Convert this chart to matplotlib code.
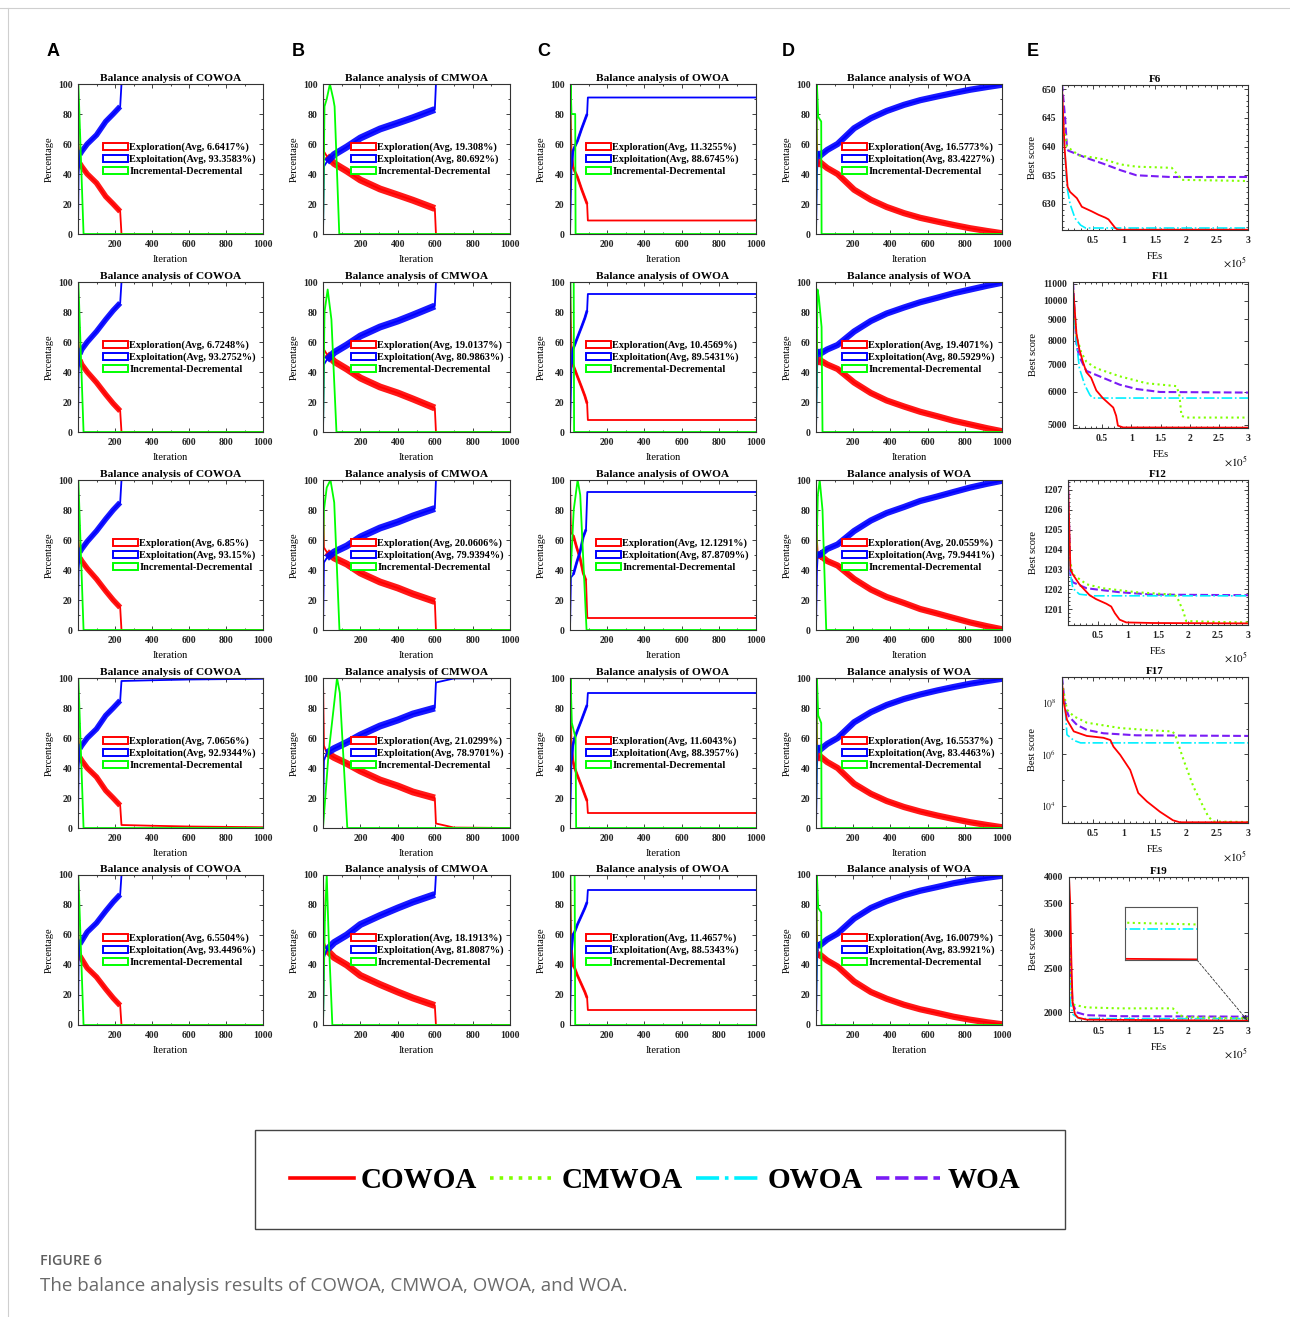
import numpy as np
import matplotlib
matplotlib.use('Agg')
import matplotlib.pyplot as plt
from matplotlib.patches import Patch, Rectangle
from matplotlib.lines import Line2D
from matplotlib.ticker import MultipleLocator, FixedLocator, NullLocator, NullFormatter

plt.rcParams['font.family'] = ['Liberation Serif', 'DejaVu Serif']
plt.rcParams['mathtext.fontset'] = 'stix'

W, H = 1290, 1317

# ------------------------------------------------------------------ data
ALGOS = ['COWOA', 'CMWOA', 'OWOA', 'WOA']
PANEL_LETTERS = ['A', 'B', 'C', 'D', 'E']
FUNCS = ['F6', 'F11', 'F12', 'F17', 'F19']

# average exploration / exploitation shown in legends (rows = F6, F11, F12, F17, F19)
AVG_XPL_COWOA = ['6.6417', '6.7248', '6.85', '7.0656', '6.5504']
AVG_XPT_COWOA = ['93.3583', '93.2752', '93.15', '92.9344', '93.4496']
AVG_XPL_CMWOA = ['19.308', '19.0137', '20.0606', '21.0299', '18.1913']
AVG_XPT_CMWOA = ['80.692', '80.9863', '79.9394', '78.9701', '81.8087']
AVG_XPL_OWOA = ['11.3255', '10.4569', '12.1291', '11.6043', '11.4657']
AVG_XPT_OWOA = ['88.6745', '89.5431', '87.8709', '88.3957', '88.5343']
AVG_XPL_WOA = ['16.5773', '19.4071', '20.0559', '16.5537', '16.0079']
AVG_XPT_WOA = ['83.4227', '80.5929', '79.9441', '83.4463', '83.9921']

# iteration where the noisy phase ends
CONV_COWOA = [228, 228, 228, 228, 228]
CONV_CMWOA = [598, 598, 598, 598, 598]
CONV_OWOA = [92, 92, 86, 92, 92]
CONV_WOA = [1000, 1000, 1000, 1000, 1000]

# ---- COWOA
COWOA_IT = [0, 3, 10, 20, 50, 100, 150, 190, 228, 235, 400, 600, 1000]
COWOA1_XPL = [100, 60, 47, 45, 40, 34, 25, 20, 15, 0, 0, 0, 0]
COWOA1_XPT = [0, 40, 53, 55, 60, 66, 75, 80, 85, 100, 100, 100, 100]
COWOA2_XPL = [100, 60, 48, 45, 40, 33, 25, 19, 14, 0, 0, 0, 0]
COWOA2_XPT = [0, 40, 52, 55, 60, 67, 75, 81, 86, 100, 100, 100, 100]
COWOA3_XPL = [100, 60, 48, 46, 41, 34, 26, 20, 15, 0, 0, 0, 0]
COWOA3_XPT = [0, 40, 52, 54, 59, 66, 74, 80, 85, 100, 100, 100, 100]
COWOA4_XPL = [100, 60, 47, 45, 40, 34, 25, 20, 15, 2, 1.5, 1, 0.5]
COWOA4_XPT = [0, 40, 53, 55, 60, 66, 75, 80, 85, 98, 98.5, 99, 99.5]
COWOA5_XPL = [100, 58, 46, 44, 38, 32, 24, 18, 13, 0, 0, 0, 0]
COWOA5_XPT = [0, 42, 54, 56, 62, 68, 76, 82, 87, 100, 100, 100, 100]
COWOA_GIT = [0, 2, 30, 1000]
COWOA_INC = [0, 100, 0, 0]

# ---- CMWOA
CMWOA_IT = [0, 5, 20, 60, 127, 200, 305, 400, 481, 598, 604, 640, 700, 1000]
CMWOA1_XPL = [100, 55, 52, 47, 42, 36, 30, 26, 22.5, 17, 0, 0, 0, 0]
CMWOA1_XPT = [0, 45, 48, 53, 58, 64, 70, 74, 77.5, 83, 100, 100, 100, 100]
CMWOA2_XPL = [100, 55, 52, 47, 42, 36, 30, 26, 22, 16, 0, 0, 0, 0]
CMWOA2_XPT = [0, 45, 48, 53, 58, 64, 70, 74, 78, 84, 100, 100, 100, 100]
CMWOA3_XPL = [100, 55, 52, 48, 44, 38, 32, 28, 24, 19, 0, 0, 0, 0]
CMWOA3_XPT = [0, 45, 48, 52, 56, 62, 68, 72, 76, 81, 100, 100, 100, 100]
CMWOA4_XPL = [100, 55, 50, 47, 43, 38, 32, 28, 24, 20, 3, 2, 0.3, 0]
CMWOA4_XPT = [0, 45, 50, 53, 57, 62, 68, 72, 76, 80, 97, 98, 99.7, 100]
CMWOA5_XPL = [100, 55, 50, 45, 40, 33, 27, 22, 18, 13, 0, 0, 0, 0]
CMWOA5_XPT = [0, 45, 50, 55, 60, 67, 73, 78, 82, 87, 100, 100, 100, 100]
CMWOA1_GIT = [0, 8, 20, 37, 55, 62, 87, 1000]
CMWOA1_INC = [0, 85, 90, 100, 90, 85, 0, 0]
CMWOA2_GIT = [0, 8, 25, 45, 72, 1000]
CMWOA2_INC = [0, 80, 95, 75, 0, 0]
CMWOA3_GIT = [0, 5, 20, 40, 60, 88, 1000]
CMWOA3_INC = [50, 80, 95, 100, 85, 0, 0]
CMWOA4_GIT = [0, 30, 75, 90, 130, 1000]
CMWOA4_INC = [0, 50, 100, 90, 0, 0]
CMWOA5_GIT = [0, 10, 20, 30, 50, 1000]
CMWOA5_INC = [0, 70, 100, 60, 0, 0]

# ---- OWOA
OWOA_IT = [0, 8, 15, 25, 40, 62, 80, 92, 96, 1000]
OWOA3_IT = [0, 5, 18, 36, 54, 71, 86, 93, 1000]
OWOA1_XPL = [100, 55, 45, 42, 38, 30, 24, 20, 9, 9]
OWOA1_XPT = [0, 45, 55, 58, 62, 70, 76, 80, 91, 91]
OWOA2_XPL = [100, 55, 45, 42, 37, 30, 24, 19, 8, 8]
OWOA2_XPT = [0, 45, 55, 58, 63, 70, 76, 81, 92, 92]
OWOA3_XPL = [100, 65, 63, 55, 48, 38, 33, 8, 8]
OWOA3_XPT = [0, 35, 37, 45, 52, 62, 67, 92, 92]
OWOA4_XPL = [100, 55, 45, 40, 35, 28, 22, 18, 10, 10]
OWOA4_XPT = [0, 45, 55, 60, 65, 72, 78, 82, 90, 90]
OWOA5_XPL = [100, 50, 40, 38, 33, 27, 22, 18, 10, 10]
OWOA5_XPT = [0, 50, 60, 62, 67, 73, 78, 82, 90, 90]
OWOA1_GIT = [0, 3, 8, 28, 30, 1000]
OWOA1_INC = [0, 100, 80, 80, 0, 0]
OWOA2_GIT = [0, 3, 20, 22, 1000]
OWOA2_INC = [0, 100, 100, 0, 0]
OWOA3_GIT = [0, 20, 41, 55, 89, 1000]
OWOA3_INC = [30, 80, 100, 90, 0, 0]
OWOA4_GIT = [0, 3, 10, 30, 33, 1000]
OWOA4_INC = [0, 100, 70, 60, 0, 0]
OWOA5_GIT = [0, 3, 25, 28, 1000]
OWOA5_INC = [0, 100, 100, 0, 0]

# ---- WOA
WOA_IT = [0, 5, 10, 20, 60, 116, 205, 295, 380, 473, 560, 652, 740, 830, 920, 1000]
WOA1_XPL = [100, 60, 45, 48, 44, 40, 29.5, 22.8, 18, 13.9, 10.8, 8.3, 6, 3.8, 2, 0.5]
WOA1_XPT = [0, 40, 55, 52, 56, 60, 70.5, 77.2, 82, 86.1, 89.2, 91.7, 94, 96.2, 98, 99.5]
WOA2_XPL = [100, 60, 45, 48, 45, 42, 33, 26, 21, 17, 13.5, 10.5, 7.5, 5, 2.5, 0.5]
WOA2_XPT = [0, 40, 55, 52, 55, 58, 67, 74, 79, 83, 86.5, 89.5, 92.5, 95, 97.5, 99.5]
WOA3_XPL = [100, 60, 48, 50, 46, 43, 34, 27, 22, 18, 14, 11, 8, 5, 2.5, 0.5]
WOA3_XPT = [0, 40, 52, 50, 54, 57, 66, 73, 78, 82, 86, 89, 92, 95, 97.5, 99.5]
WOA4_XPL = [100, 60, 45, 48, 44, 40, 29.5, 22.8, 18, 14, 11, 8.3, 6, 3.8, 2, 0.5]
WOA4_XPT = [0, 40, 55, 52, 56, 60, 70.5, 77.2, 82, 86, 89, 91.7, 94, 96.2, 98, 99.5]
WOA5_XPL = [100, 60, 45, 47, 43, 39, 29, 22, 17.5, 13.5, 10.5, 8, 5.5, 3.5, 1.8, 0.5]
WOA5_XPT = [0, 40, 55, 53, 57, 61, 71, 78, 82.5, 86.5, 89.5, 92, 94.5, 96.5, 98.2, 99.5]
WOA1_GIT = [0, 5, 12, 28, 30, 1000]
WOA1_INC = [0, 100, 78, 75, 0, 0]
WOA2_GIT = [0, 8, 15, 30, 35, 1000]
WOA2_INC = [0, 95, 90, 70, 0, 0]
WOA3_GIT = [0, 10, 20, 35, 55, 1000]
WOA3_INC = [40, 90, 100, 80, 0, 0]
WOA4_GIT = [0, 5, 12, 28, 30, 1000]
WOA4_INC = [0, 100, 75, 70, 0, 0]
WOA5_GIT = [0, 5, 12, 28, 30, 1000]
WOA5_INC = [0, 100, 78, 75, 0, 0]

# ---- convergence curves (FEs in units of 1e5)
F6_X_COWOA = [0, 0.04, 0.09, 0.13, 0.24, 0.32, 0.48, 0.59, 0.7, 0.75, 0.86, 0.9, 3]
F6_COWOA = [650.5, 640, 633, 632.1, 631, 629.5, 628.7, 628.1, 627.6, 627.3, 625.8, 625.5, 625.5]
F6_X_CMWOA = [0, 0.02, 0.08, 0.27, 0.67, 0.94, 1.2, 1.77, 1.85, 1.93, 3]
F6_CMWOA = [648, 644, 640, 638.5, 637.8, 636.9, 636.5, 636.3, 635.3, 634.2, 634]
F6_X_OWOA = [0, 0.03, 0.05, 0.08, 0.13, 0.21, 0.3, 0.38, 3]
F6_OWOA = [645, 641, 638, 633, 630, 627.5, 626.3, 625.8, 625.8]
F6_X_WOA = [0, 0.05, 0.08, 0.1, 0.4, 0.67, 0.94, 1.2, 1.74, 3]
F6_WOA = [651, 645, 640, 639.3, 638, 637, 635.9, 635, 634.7, 634.7]

F11_X_COWOA = [0, 0.06, 0.11, 0.17, 0.23, 0.31, 0.4, 0.51, 0.69, 0.74, 0.77, 0.86, 3]
F11_COWOA = [10800, 8300, 7600, 7100, 6700, 6500, 6050, 5800, 5500, 5250, 4970, 4920, 4915]
F11_X_CMWOA = [0, 0.06, 0.14, 0.23, 0.4, 0.8, 1.26, 1.77, 1.82, 1.86, 1.94, 3]
F11_CMWOA = [10600, 8200, 7500, 7100, 6850, 6550, 6300, 6200, 5950, 5250, 5200, 5200]
F11_X_OWOA = [0, 0.06, 0.11, 0.2, 0.29, 0.34, 3]
F11_OWOA = [10000, 7900, 6850, 6250, 5900, 5800, 5800]
F11_X_WOA = [0, 0.06, 0.11, 0.23, 0.51, 0.8, 1.09, 1.49, 3]
F11_WOA = [11100, 7800, 7300, 6750, 6500, 6250, 6100, 6000, 5980]

F12_X_COWOA = [0, 0.04, 0.08, 0.19, 0.36, 0.47, 0.64, 0.72, 0.78, 0.86, 0.97, 1.42, 3]
F12_COWOA = [1207.5, 1203, 1202.75, 1202.25, 1201.7, 1201.5, 1201.27, 1201.13, 1200.8, 1200.47, 1200.33, 1200.3, 1200.28]
F12_X_CMWOA = [0, 0.03, 0.08, 0.31, 0.58, 1.14, 1.75, 1.81, 1.92, 1.97, 2.5, 3]
F12_CMWOA = [1206.3, 1203.5, 1202.75, 1202.25, 1202.05, 1201.85, 1201.73, 1201.65, 1200.9, 1200.4, 1200.35, 1200.33]
F12_X_OWOA = [0, 0.04, 0.08, 0.19, 0.42, 3]
F12_OWOA = [1205.3, 1202.8, 1202.05, 1201.75, 1201.67, 1201.67]
F12_X_WOA = [0, 0.04, 0.08, 0.31, 0.86, 1.42, 3]
F12_WOA = [1207.5, 1202.65, 1202.35, 1202.05, 1201.85, 1201.73, 1201.7]

F17_X_COWOA = [0, 0.03, 0.08, 0.19, 0.4, 0.67, 0.78, 0.83, 0.94, 1.1, 1.23, 1.37, 1.58, 1.79, 1.9, 3]
F17_COWOA = [6.3e8, 1.0e8, 2.2e7, 7.8e6, 5.2e6, 4.4e6, 3.6e6, 2.0e6, 9.5e5, 2.5e5, 3.2e4, 1.5e4, 6.0e3, 2.8e3, 2.35e3, 2.35e3]
F17_X_CMWOA = [0, 0.08, 0.19, 0.4, 0.94, 1.47, 1.77, 1.82, 1.96, 2.12, 2.25, 2.36, 2.44, 3]
F17_CMWOA = [6.0e8, 5.4e7, 3.0e7, 1.7e7, 1.05e7, 8.5e6, 7.8e6, 6.3e6, 6.2e5, 5.6e4, 1.3e4, 3.9e3, 2.5e3, 2.4e3]
F17_X_OWOA = [0, 0.05, 0.08, 0.19, 0.3, 3]
F17_OWOA = [2.5e8, 7.2e7, 5.8e6, 3.5e6, 2.8e6, 2.8e6]
F17_X_WOA = [0, 0.05, 0.11, 0.24, 0.4, 0.67, 1.2, 3]
F17_WOA = [1.0e9, 7.2e7, 3.0e7, 1.4e7, 8.9e6, 6.6e6, 5.5e6, 5.2e6]

F19_X_COWOA = [0, 0.02, 0.04, 0.06, 0.1, 0.15, 0.3, 3]
F19_COWOA = [4000, 3500, 2600, 2100, 1980, 1945, 1925, 1915]
F19_X_CMWOA = [0, 0.04, 0.07, 0.29, 0.85, 1.74, 1.85, 1.97, 3]
F19_CMWOA = [3000, 2200, 2080, 2050, 2040, 2040, 1970, 1950, 1938]
F19_X_OWOA = [0, 0.02, 0.07, 0.18, 3]
F19_OWOA = [2600, 2100, 1975, 1935, 1935]
F19_X_WOA = [0, 0.02, 0.06, 0.12, 0.29, 0.85, 3]
F19_WOA = [3500, 2600, 2100, 2000, 1970, 1960, 1955]

# ------------------------------------------------------------------ tables built from the named arrays
BAL = {
    'COWOA': dict(it=[COWOA_IT] * 5,
                  xpl=[COWOA1_XPL, COWOA2_XPL, COWOA3_XPL, COWOA4_XPL, COWOA5_XPL],
                  xpt=[COWOA1_XPT, COWOA2_XPT, COWOA3_XPT, COWOA4_XPT, COWOA5_XPT],
                  git=[COWOA_GIT] * 5, inc=[COWOA_INC] * 5,
                  a1=AVG_XPL_COWOA, a2=AVG_XPT_COWOA, conv=CONV_COWOA),
    'CMWOA': dict(it=[CMWOA_IT] * 5,
                  xpl=[CMWOA1_XPL, CMWOA2_XPL, CMWOA3_XPL, CMWOA4_XPL, CMWOA5_XPL],
                  xpt=[CMWOA1_XPT, CMWOA2_XPT, CMWOA3_XPT, CMWOA4_XPT, CMWOA5_XPT],
                  git=[CMWOA1_GIT, CMWOA2_GIT, CMWOA3_GIT, CMWOA4_GIT, CMWOA5_GIT],
                  inc=[CMWOA1_INC, CMWOA2_INC, CMWOA3_INC, CMWOA4_INC, CMWOA5_INC],
                  a1=AVG_XPL_CMWOA, a2=AVG_XPT_CMWOA, conv=CONV_CMWOA),
    'OWOA': dict(it=[OWOA_IT, OWOA_IT, OWOA3_IT, OWOA_IT, OWOA_IT],
                 xpl=[OWOA1_XPL, OWOA2_XPL, OWOA3_XPL, OWOA4_XPL, OWOA5_XPL],
                 xpt=[OWOA1_XPT, OWOA2_XPT, OWOA3_XPT, OWOA4_XPT, OWOA5_XPT],
                 git=[OWOA1_GIT, OWOA2_GIT, OWOA3_GIT, OWOA4_GIT, OWOA5_GIT],
                 inc=[OWOA1_INC, OWOA2_INC, OWOA3_INC, OWOA4_INC, OWOA5_INC],
                 a1=AVG_XPL_OWOA, a2=AVG_XPT_OWOA, conv=CONV_OWOA),
    'WOA': dict(it=[WOA_IT] * 5,
                xpl=[WOA1_XPL, WOA2_XPL, WOA3_XPL, WOA4_XPL, WOA5_XPL],
                xpt=[WOA1_XPT, WOA2_XPT, WOA3_XPT, WOA4_XPT, WOA5_XPT],
                git=[WOA1_GIT, WOA2_GIT, WOA3_GIT, WOA4_GIT, WOA5_GIT],
                inc=[WOA1_INC, WOA2_INC, WOA3_INC, WOA4_INC, WOA5_INC],
                a1=AVG_XPL_WOA, a2=AVG_XPT_WOA, conv=CONV_WOA),
}
CONVD = {
    'F6': [(F6_X_COWOA, F6_COWOA), (F6_X_CMWOA, F6_CMWOA), (F6_X_OWOA, F6_OWOA), (F6_X_WOA, F6_WOA)],
    'F11': [(F11_X_COWOA, F11_COWOA), (F11_X_CMWOA, F11_CMWOA), (F11_X_OWOA, F11_OWOA), (F11_X_WOA, F11_WOA)],
    'F12': [(F12_X_COWOA, F12_COWOA), (F12_X_CMWOA, F12_CMWOA), (F12_X_OWOA, F12_OWOA), (F12_X_WOA, F12_WOA)],
    'F17': [(F17_X_COWOA, F17_COWOA), (F17_X_CMWOA, F17_CMWOA), (F17_X_OWOA, F17_OWOA), (F17_X_WOA, F17_WOA)],
    'F19': [(F19_X_COWOA, F19_COWOA), (F19_X_CMWOA, F19_CMWOA), (F19_X_OWOA, F19_OWOA), (F19_X_WOA, F19_WOA)],
}

# ------------------------------------------------------------------ styling
RED, BLUE, GREEN = '#ff0000', '#0000ff', '#00ff00'
ALGO_STYLE = {
    'COWOA': dict(color='#ff0000', ls='-', lw=1.3),
    'CMWOA': dict(color='#80ff00', ls=':', lw=1.5),
    'OWOA': dict(color='#00f0ff', ls='-.', lw=1.2),
    'WOA': dict(color='#7a1cf5', ls='--', lw=1.5),
}
COL_X = [(78, 263), (323, 510), (570, 756), (816, 1002)]
ROW_Y = [(84, 234), (282, 432), (480, 630), (678, 828), (875, 1025)]
E_BOX = [(1062, 85, 1248, 230), (1073, 282, 1248, 428), (1068, 480, 1248, 625),
         (1062, 677, 1248, 823), (1069, 877, 1248, 1021)]
NOISE_LW = {'COWOA': 4.0, 'CMWOA': 5.0, 'OWOA': 2.0, 'WOA': 4.5}
LEG_X = {'COWOA': 0.135, 'CMWOA': 0.15, 'OWOA': 0.086, 'WOA': 0.14}


def rect(l, t, r, b):
    return [l / W, 1 - b / H, (r - l) / W, (b - t) / H]


def style_box(ax):
    for s in ax.spines.values():
        s.set_linewidth(0.8)
        s.set_color('#333333')
    ax.tick_params(which='both', direction='in', top=True, right=True, labelsize=7,
                   width=0.6, colors='#222222')
    ax.tick_params(which='major', length=3, pad=4)
    ax.tick_params(which='minor', length=1.5)
    for lab in ax.get_xticklabels() + ax.get_yticklabels():
        lab.set_fontweight('bold')


fig = plt.figure(figsize=(W / 100, H / 100), dpi=100)

# page frame lines
fig.add_artist(Line2D([0, 1], [1 - 8 / H, 1 - 8 / H], transform=fig.transFigure, color='#cfcfcf', lw=0.8))
fig.add_artist(Line2D([8 / W, 8 / W], [0, 1 - 8 / H], transform=fig.transFigure, color='#cfcfcf', lw=0.8))

# ------------------------------------------------------------------ balance panels
for c, algo in enumerate(ALGOS):
    d = BAL[algo]
    for r in range(5):
        ax = fig.add_axes(rect(COL_X[c][0], ROW_Y[r][0], COL_X[c][1], ROW_Y[r][1]))
        it = np.array(d['it'][r], dtype=float)
        xpl = np.array(d['xpl'][r], dtype=float)
        xpt = np.array(d['xpt'][r], dtype=float)
        conv = d['conv'][r]
        noisy = (it >= 8) & (it <= conv)
        ax.plot(it[noisy], xpl[noisy], color=RED, lw=NOISE_LW[algo], solid_capstyle='butt', alpha=0.9)
        ax.plot(it, xpl, color=RED, lw=1.3)
        ax.plot(it[noisy], xpt[noisy], color=BLUE, lw=NOISE_LW[algo], solid_capstyle='butt', alpha=0.9)
        ax.plot(it, xpt, color=BLUE, lw=1.3)
        ax.plot(d['git'][r], d['inc'][r], color=GREEN, lw=1.3)
        ax.set_xlim(0, 1000)
        ax.set_ylim(0, 100)
        ax.xaxis.set_major_locator(FixedLocator([200, 400, 600, 800, 1000]))
        ax.xaxis.set_minor_locator(MultipleLocator(100))
        ax.yaxis.set_major_locator(MultipleLocator(20))
        ax.yaxis.set_minor_locator(MultipleLocator(10))
        style_box(ax)
        ax.set_title(f'Balance analysis of {algo}', fontsize=8.2, fontweight='bold', pad=2)
        ax.set_xlabel('Iteration', fontsize=7.5)
        ax.set_ylabel('Percentage', fontsize=7.5)
        ax.xaxis.set_label_coords(0.5, -0.14)
        ax.yaxis.set_label_coords(-0.13, 0.5)
        handles = [Patch(facecolor='white', edgecolor=RED, lw=1.4),
                   Patch(facecolor='white', edgecolor=BLUE, lw=1.4),
                   Patch(facecolor='white', edgecolor=GREEN, lw=1.4)]
        labels = [f'Exploration(Avg, {d["a1"][r]}%)', f'Exploitation(Avg, {d["a2"][r]}%)',
                  'Incremental-Decremental']
        lx = LEG_X[algo]
        if r == 2 and algo in ('COWOA', 'OWOA'):
            lx += 0.055
        ax.legend(handles, labels, loc='upper left', bbox_to_anchor=(lx, 0.61), frameon=False,
                  borderpad=0, borderaxespad=0, handlelength=2.4, handleheight=0.75,
                  handletextpad=0.15, labelspacing=0.25,
                  prop=dict(family='Liberation Serif', weight='bold', size=7.4))

# ------------------------------------------------------------------ convergence panels
YLAB_X = {'F6': -0.135, 'F11': -0.2, 'F12': -0.167, 'F17': -0.135, 'F19': -0.173}
for r, fn in enumerate(FUNCS):
    l, t, rr, b = E_BOX[r]
    ax = fig.add_axes(rect(l, t, rr, b))
    for algo, (xs, ys) in zip(ALGOS[::-1], CONVD[fn][::-1]):
        ax.plot(xs, ys, **ALGO_STYLE[algo])
    ax.set_xlim(0, 3)
    ax.xaxis.set_major_locator(FixedLocator([0.5, 1, 1.5, 2, 2.5, 3]))
    ax.xaxis.set_minor_locator(MultipleLocator(0.1))
    ax.set_xticklabels(['0.5', '1', '1.5', '2', '2.5', '3'])
    if fn == 'F6':
        ax.set_ylim(625.45, 650.75)
        ax.yaxis.set_major_locator(FixedLocator([630, 635, 640, 645, 650]))
        ax.yaxis.set_minor_locator(MultipleLocator(1))
    elif fn == 'F11':
        ax.set_yscale('log')
        ax.set_ylim(4905, 11100)
        yt = [5000, 6000, 7000, 8000, 9000, 10000, 11000]
        ax.yaxis.set_major_locator(FixedLocator(yt))
        ax.yaxis.set_minor_locator(NullLocator())
        ax.set_yticklabels([str(v) for v in yt])
    elif fn == 'F12':
        ax.set_ylim(1200.2, 1207.5)
        ax.yaxis.set_major_locator(FixedLocator([1201, 1202, 1203, 1204, 1205, 1206, 1207]))
        ax.yaxis.set_minor_locator(MultipleLocator(0.2))
    elif fn == 'F17':
        ax.set_yscale('log')
        ax.set_ylim(2.2e3, 1e9)
        ax.yaxis.set_major_locator(FixedLocator([1e4, 1e6, 1e8]))
        ax.yaxis.set_minor_locator(FixedLocator([1e5, 1e7]))
        ax.yaxis.set_minor_formatter(NullFormatter())
        ax.set_yticklabels([r'$10^{4}$', r'$10^{6}$', r'$10^{8}$'])
    else:
        ax.set_yscale('log')
        ax.set_ylim(1912, 4000)
        yt = [2000, 2500, 3000, 3500, 4000]
        ax.yaxis.set_major_locator(FixedLocator(yt))
        ax.yaxis.set_minor_locator(NullLocator())
        ax.set_yticklabels([str(v) for v in yt])
    style_box(ax)
    ax.set_title(fn, fontsize=8, fontweight='bold', pad=2)
    ax.set_xlabel('FEs', fontsize=7.5)
    ax.set_ylabel('Best score', fontsize=7.5)
    ax.xaxis.set_label_coords(0.5, -0.15)
    ax.yaxis.set_label_coords(YLAB_X[fn], 0.5)
    ax.text(0.93, -0.18, r'$\times10^{5}$', transform=ax.transAxes, ha='center', va='top', fontsize=8)
    if fn == 'F19':
        ins = fig.add_axes(rect(1125, 907, 1197, 960))
        for algo, (xs, ys) in zip(ALGOS[::-1], CONVD[fn][::-1]):
            ins.plot(xs, ys, **ALGO_STYLE[algo])
        ins.set_xlim(2.9, 3.0)
        ins.set_ylim(1914.6, 1949.5)
        ins.set_xticks([])
        ins.set_yticks([])
        for s in ins.spines.values():
            s.set_color('#555555')
            s.set_linewidth(0.8)
        ax.annotate('', xy=(2.99, 1918), xycoords='data', xytext=(1197 / W, 1 - 960 / H),
                    textcoords='figure fraction',
                    arrowprops=dict(arrowstyle='-|>', color='#333333', lw=0.6, ls=(0, (3, 2)),
                                    mutation_scale=7, shrinkA=0, shrinkB=0))

# ------------------------------------------------------------------ panel letters
for i, letter in enumerate(PANEL_LETTERS):
    fig.text((47 + 245 * i) / W, 1 - 52 / H, letter, fontsize=13, fontweight='bold',
             family='Liberation Sans', ha='left', va='center')

# ------------------------------------------------------------------ shared legend
leg_handles = [Line2D([], [], color=ALGO_STYLE[a]['color'], ls=ALGO_STYLE[a]['ls'], lw=2.6) for a in ALGOS]
fig.legend(leg_handles, ALGOS, loc='center', bbox_to_anchor=(655 / W, 1 - 1181 / H), ncol=4,
           frameon=False, handlelength=2.2, handletextpad=0.25, columnspacing=0.45,
           prop=dict(family='Liberation Serif', weight='bold', size=21))
fig.add_artist(Rectangle((255 / W, 1 - 1229 / H), 810 / W, 99 / H, transform=fig.transFigure,
                         fill=False, edgecolor='#444444', lw=1.0))

# ------------------------------------------------------------------ caption
fig.text(40 / W, 1 - 1261 / H, 'FIGURE 6', fontsize=10.3, color='#5f5f5f', family='Open Sans',
         fontweight='semibold', ha='left', va='center')
fig.text(40 / W, 1 - 1286 / H, 'The balance analysis results of COWOA, CMWOA, OWOA, and WOA.',
         fontsize=13.5, color='#6a6a6a', family='Open Sans', ha='left', va='center')

fig.savefig('out.png', dpi=100, facecolor='white')
